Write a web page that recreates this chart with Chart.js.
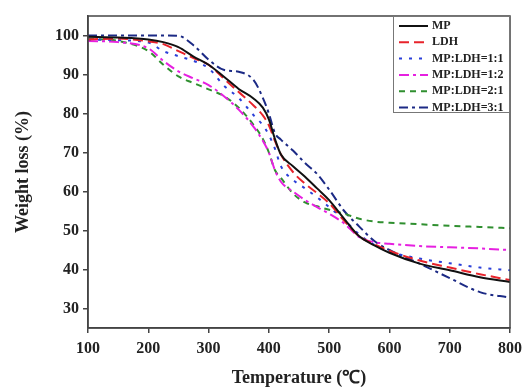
<!DOCTYPE html>
<html lang="en">
<head>
    <meta charset="UTF-8">
    <script src="https://cdn.jsdelivr.net/npm/chart.js"></script>
    <title>TGA curves</title>
    <style>
        body { margin: 0; background: #fff; }
        #wrap { width: 528px; height: 387px; position: relative; }
    </style>
</head>
<body>
    <div id="wrap"><canvas id="tga-chart"></canvas></div>

    <script>
        const temps = [100, 150, 200, 225, 250, 275, 300, 325, 350, 375, 390, 400, 410, 420, 440, 460, 480, 500, 525, 550, 575, 600, 650, 700, 750, 800];

        const seriesNames = ['MP', 'LDH', 'MP:LDH=1:1', 'MP:LDH=1:2', 'MP:LDH=2:1', 'MP:LDH=3:1'];

        const mpVals  = [99.7, 99.5, 99, 98.3, 97, 94.6, 92.5, 89.5, 86.3, 83.8, 81.5, 78.5, 73.5, 69.5, 66.5, 63.8, 60.8, 57.8, 53, 48.5, 46.2, 44.3, 41.5, 39.8, 38, 36.8];
        const ldhVals = [99, 99.2, 98.5, 97.8, 96, 94.2, 92.5, 89, 85.5, 82, 79.5, 77, 73, 69.5, 65, 62, 59.6, 57, 52.5, 48.5, 46.5, 44.8, 42.3, 40.5, 38.8, 37.3];
        const r11Vals = [99, 98.8, 98.2, 96, 94.7, 93.5, 91.6, 87.2, 84, 79.5, 77, 74.5, 71, 66.5, 63, 60.8, 58.5, 56, 52.7, 49, 46.3, 44.6, 42.8, 41.6, 40.5, 39.8];
        const r12Vals = [98.6, 98.3, 96.7, 93.5, 90.8, 89, 87.3, 84.5, 81, 76.5, 73, 70, 65.5, 62.5, 60, 57.8, 56, 54.3, 51.8, 48.3, 47, 46.6, 46, 45.7, 45.4, 45];
        const r21Vals = [99.2, 98.6, 96, 92.5, 89.5, 87.8, 86.2, 84.5, 81.5, 77, 73.5, 70, 65.5, 63.5, 59.5, 57.2, 56.2, 55.3, 54.3, 53, 52.3, 52, 51.6, 51.2, 50.9, 50.6];
        const r31Vals = [100, 100, 100, 100, 99.9, 97.5, 93.8, 91.2, 90.7, 88.5, 84, 80, 75, 73.3, 70.5, 67.3, 64.5, 60.5, 55, 51, 47.3, 45, 41.5, 37.8, 34.2, 32.8];

        const xTicks = [100, 200, 300, 400, 500, 600, 700, 800];
        const yTicks = [30, 40, 50, 60, 70, 80, 90, 100];

        const allVals = [mpVals, ldhVals, r11Vals, r12Vals, r21Vals, r31Vals];
        const colors = ['#111111', '#e8232b', '#2b3fd8', '#e620e0', '#2f8f2f', '#1c2a85'];
        const dashes = [[], [10, 5], [3, 7], [10, 4, 3, 4], [6, 5], [9, 4, 3, 4]];

        const serif = '"Liberation Serif", "Times New Roman", serif';

        const datasets = seriesNames.map((name, i) => ({
            label: name,
            data: temps.map((t, j) => ({ x: t, y: allVals[i][j] })),
            borderColor: colors[i],
            borderDash: dashes[i],
            borderWidth: 2,
            pointRadius: 0,
            fill: false,
            cubicInterpolationMode: 'monotone'
        }));

        // frame round the plot + legend box in the top right corner
        const frameAndLegend = {
            id: 'frameAndLegend',
            afterDatasetsDraw(chart) {
                const { ctx, chartArea: a } = chart;
                ctx.save();
                ctx.strokeStyle = '#444';
                ctx.lineWidth = 1.5;
                ctx.strokeRect(a.left, a.top, a.right - a.left, a.bottom - a.top);

                const bx = a.right - 117, by = a.top, bw = 117, bh = 96;
                ctx.fillStyle = '#fff';
                ctx.fillRect(bx, by, bw, bh);
                ctx.strokeStyle = '#777';
                ctx.lineWidth = 1;
                ctx.strokeRect(bx + 0.5, by + 0.5, bw - 1, bh);

                ctx.font = 'bold 12px ' + serif;
                ctx.textBaseline = 'middle';
                chart.data.datasets.forEach((ds, i) => {
                    const y = by + 10 + i * 16.3;
                    ctx.strokeStyle = ds.borderColor;
                    ctx.lineWidth = 2;
                    ctx.setLineDash(ds.borderDash);
                    ctx.beginPath();
                    ctx.moveTo(bx + 6, y);
                    ctx.lineTo(bx + 35, y);
                    ctx.stroke();
                    ctx.setLineDash([]);
                    ctx.fillStyle = '#222';
                    ctx.fillText(ds.label, bx + 39, y);
                });
                ctx.restore();
            }
        };

        new Chart(document.getElementById('tga-chart'), {
            type: 'line',
            data: { datasets },
            options: {
                responsive: true,
                maintainAspectRatio: false,
                animation: false,
                layout: { padding: { left: 0, top: 16, right: 14, bottom: 0 } },
                plugins: {
                    legend: { display: false },
                    tooltip: { enabled: false }
                },
                scales: {
                    x: {
                        type: 'linear',
                        min: 100,
                        max: 800,
                        afterBuildTicks: s => { s.ticks = xTicks.map(v => ({ value: v })); },
                        afterFit: s => { s.height = 59; },
                        grid: { drawOnChartArea: false, tickLength: 5, color: '#444', lineWidth: 1.5 },
                        border: { color: '#444', width: 1.5 },
                        ticks: { color: '#222', padding: 6, maxRotation: 0, font: { family: serif, size: 16, weight: 'bold' } },
                        title: { display: true, text: 'Temperature (℃)', color: '#222', padding: { top: 0, bottom: -2 }, font: { family: serif, size: 18, weight: 'bold' } }
                    },
                    y: {
                        min: 25,
                        max: 105,
                        afterBuildTicks: s => { s.ticks = yTicks.map(v => ({ value: v })); },
                        afterFit: s => { s.width = 88; },
                        grid: { drawOnChartArea: false, tickLength: 5, color: '#444', lineWidth: 1.5 },
                        border: { color: '#444', width: 1.5 },
                        ticks: { color: '#222', padding: 4, font: { family: serif, size: 16, weight: 'bold' } },
                        title: { display: true, text: 'Weight loss (%)', color: '#222', padding: { top: 13, bottom: 0 }, font: { family: serif, size: 18, weight: 'bold' } }
                    }
                }
            },
            plugins: [frameAndLegend]
        });
    </script>
</body>
</html>
